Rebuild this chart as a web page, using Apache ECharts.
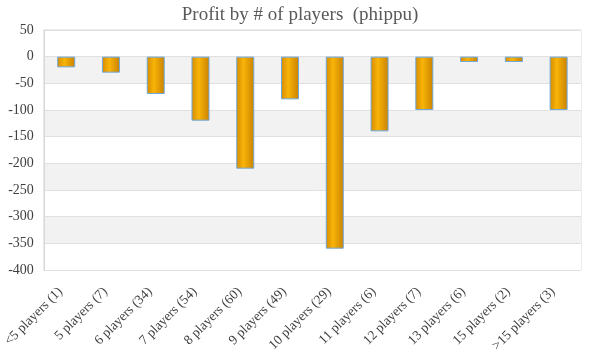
<!DOCTYPE html>
<html><head><meta charset="utf-8">
<script src="https://cdn.jsdelivr.net/npm/echarts@6/dist/echarts.min.js"></script>
<style>html,body{margin:0;padding:0;background:#fff}#c{width:600px;height:360px}</style>
</head><body><div id="c"></div>
<script>
const categories = ['<5 players (1)','5 players (7)','6 players (34)','7 players (54)','8 players (60)','9 players (49)','10 players (29)','11 players (6)','12 players (7)','13 players (6)','15 players (2)','>15 players (3)'];
const profit = [-20,-30,-70,-120,-210,-80,-360,-140,-100,-10,-10,-100];
const yMin = -400, yMax = 50, yStep = 50;

const font = '"Liberation Serif", "DejaVu Serif", serif';
const chart = echarts.init(document.getElementById('c'));
chart.setOption({
  animation: false,
  title: {
    text: 'Profit by # of players  (phippu)',
    left: 'center', top: 1,
    textStyle: {fontFamily: font, fontSize: 19, fontWeight: 'normal', color: '#595959'}
  },
  grid: {left: 40, right: 19, top: 30, bottom: 90, show: true, borderColor: '#d9d9d9', borderWidth: 1, backgroundColor: 'transparent'},
  xAxis: {
    type: 'category', data: categories, position: 'bottom',
    axisLine: {show: false}, axisTick: {show: false},
    axisLabel: {rotate: 45, interval: 0, fontFamily: font, fontSize: 13.5, color: '#404040', margin: 14, padding: [0, 8, 0, 0]}
  },
  yAxis: {
    type: 'value', min: yMin, max: yMax, interval: yStep,
    axisLine: {show: true, lineStyle: {color: '#d9d9d9'}}, axisTick: {show: false},
    axisLabel: {fontFamily: font, fontSize: 14, color: '#404040', margin: 10},
    splitLine: {lineStyle: {color: '#e0e0e0', width: 1}},
    splitArea: {show: true, areaStyle: {color: ['#ffffff', '#f2f2f2']}}
  },
  series: [{
    type: 'bar', data: profit, barWidth: 18,
    itemStyle: {
      color: new echarts.graphic.LinearGradient(0, 0, 1, 0, [
        {offset: 0, color: '#d48a00'},
        {offset: 0.4, color: '#f8b408'},
        {offset: 1, color: '#c98100'}
      ]),
      borderColor: '#6fa8dc', borderWidth: 1
    }
  }]
});
</script></body></html>
